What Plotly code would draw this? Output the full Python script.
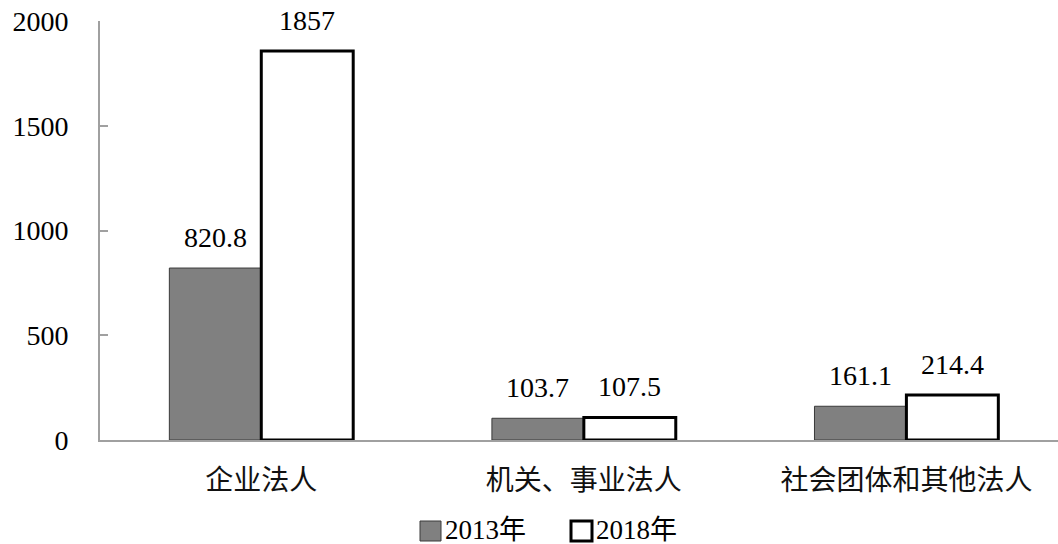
import plotly.graph_objects as go

categories = ["企业法人", "机关、事业法人", "社会团体和其他法人"]
series_names = ["2013年", "2018年"]
values_2013 = [820.8, 103.7, 161.1]
values_2018 = [1857, 107.5, 214.4]
label_2013 = ["820.8", "103.7", "161.1"]
label_2018 = ["1857", "107.5", "214.4"]
y_ticks = [0, 500, 1000, 1500, 2000]

SERIF = "Liberation Serif, Times New Roman, Noto Sans CJK SC, serif"
CJK = "Noto Sans CJK SC, sans-serif"
BAR_W = 0.285

fig = go.Figure()
fig.add_trace(go.Bar(
    x=list(range(len(categories))), y=values_2013, name=series_names[0],
    width=BAR_W, offset=-BAR_W,
    marker=dict(color="#808080", line=dict(color="#3a3a3a", width=1)),
    showlegend=False, hoverinfo="skip",
))
fig.add_trace(go.Bar(
    x=list(range(len(categories))), y=values_2018, name=series_names[1],
    width=BAR_W, offset=0,
    marker=dict(color="#ffffff", line=dict(color="#000000", width=3)),
    showlegend=False, hoverinfo="skip",
))

annotations = []
for i, (v, t) in enumerate(zip(values_2013, label_2013)):
    annotations.append(dict(x=i - BAR_W / 2, y=v, text=t, showarrow=False,
                            xref="x", yref="y", yanchor="bottom", yshift=13,
                            font=dict(family=SERIF, size=28, color="#000")))
for i, (v, t) in enumerate(zip(values_2018, label_2018)):
    annotations.append(dict(x=i + BAR_W / 2, y=v, text=t, showarrow=False,
                            xref="x", yref="y", yanchor="bottom", yshift=13,
                            font=dict(family=SERIF, size=28, color="#000")))

W, H = 1058, 544
L, T, B = 100, 21, 440
PW = float(W - L)
PH = float(B - T)
def px(xp):
    return (xp - L) / PW
def py(yp):
    return (B - yp) / PH

shapes = []
leg_y = 530
leg_items = [(420, "#808080", "#3a3a3a", 1, series_names[0]),
             (571, "#ffffff", "#000000", 3, series_names[1])]
for x0, fill, lc, lw, name in leg_items:
    shapes.append(dict(type="rect", xref="paper", yref="paper",
                       x0=px(x0), x1=px(x0 + 21), y0=py(leg_y + 11), y1=py(leg_y - 9),
                       fillcolor=fill, line=dict(color=lc, width=lw)))
    annotations.append(dict(x=px(x0 + 23), y=py(leg_y), xref="paper", yref="paper",
                            text=name, showarrow=False, xanchor="left", yanchor="middle",
                            font=dict(family=SERIF, size=27, color="#000")))

fig.update_layout(
    width=W, height=H,
    margin=dict(l=L, r=0, t=T, b=H - B, pad=0),
    paper_bgcolor="white", plot_bgcolor="white",
    barmode="overlay",
    annotations=annotations, shapes=shapes,
    showlegend=False,
)
fig.update_xaxes(
    range=[-0.5, 2.47], tickmode="array",
    tickvals=list(range(len(categories))), ticktext=categories,
    showline=True, linecolor="#a0a0a0", linewidth=2,
    ticks="", showgrid=False, zeroline=False,
    tickfont=dict(family=CJK, size=28, color="#111"),
    ticklabelstandoff=14,
)
fig.update_yaxes(
    range=[0, 2000], tickvals=y_ticks,
    showline=True, linecolor="#a0a0a0", linewidth=2,
    ticks="inside", ticklen=8, tickcolor="#a0a0a0", tickwidth=2,
    showgrid=False, zeroline=False,
    tickfont=dict(family=SERIF, size=28, color="#000"),
    ticklabelstandoff=24, ticklabeloverflow="allow",
)

fig.write_html("out.html", config={"displayModeBar": False},
               post_script="document.body.style.margin='0';document.body.style.overflow='hidden';")
